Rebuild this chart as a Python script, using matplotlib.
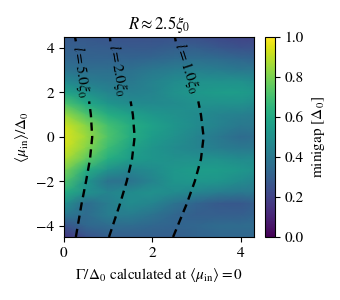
import numpy as np
import matplotlib
matplotlib.use('Agg')
import matplotlib.pyplot as plt

plt.rcParams['font.family'] = 'STIXGeneral'
plt.rcParams['mathtext.fontset'] = 'stix'
plt.rcParams['font.size'] = 11

# grid
gamma = [0.0, 0.5, 1.0, 1.5, 2.0, 2.5, 3.0, 3.5, 4.0, 4.3]
mu = [4.5, 4.0, 3.5, 3.0, 2.5, 2.0, 1.5, 1.0, 0.5, 0.0,
      -0.5, -1.0, -1.5, -2.0, -2.5, -3.0, -3.5, -4.0, -4.5]
minigap = [
    [0.28, 0.27, 0.26, 0.25, 0.25, 0.25, 0.24, 0.22, 0.20, 0.20],
    [0.30, 0.30, 0.29, 0.28, 0.28, 0.30, 0.30, 0.27, 0.25, 0.25],
    [0.33, 0.32, 0.32, 0.32, 0.33, 0.35, 0.36, 0.35, 0.33, 0.32],
    [0.38, 0.36, 0.36, 0.37, 0.40, 0.42, 0.43, 0.42, 0.40, 0.40],
    [0.47, 0.42, 0.40, 0.40, 0.44, 0.48, 0.50, 0.50, 0.50, 0.48],
    [0.58, 0.50, 0.45, 0.43, 0.45, 0.50, 0.53, 0.55, 0.55, 0.53],
    [0.72, 0.60, 0.52, 0.48, 0.47, 0.48, 0.50, 0.50, 0.50, 0.48],
    [0.85, 0.72, 0.62, 0.57, 0.53, 0.50, 0.48, 0.45, 0.43, 0.42],
    [0.93, 0.82, 0.70, 0.62, 0.57, 0.52, 0.48, 0.44, 0.40, 0.40],
    [0.95, 0.85, 0.72, 0.62, 0.55, 0.50, 0.45, 0.40, 0.35, 0.36],
    [0.93, 0.82, 0.68, 0.58, 0.52, 0.48, 0.45, 0.42, 0.40, 0.40],
    [0.88, 0.75, 0.62, 0.55, 0.52, 0.50, 0.50, 0.50, 0.48, 0.48],
    [0.80, 0.62, 0.50, 0.45, 0.48, 0.53, 0.55, 0.55, 0.53, 0.50],
    [0.72, 0.52, 0.38, 0.38, 0.45, 0.52, 0.53, 0.52, 0.48, 0.45],
    [0.62, 0.50, 0.45, 0.48, 0.50, 0.48, 0.45, 0.42, 0.40, 0.40],
    [0.50, 0.35, 0.42, 0.48, 0.45, 0.38, 0.32, 0.28, 0.27, 0.30],
    [0.40, 0.35, 0.42, 0.42, 0.38, 0.33, 0.30, 0.30, 0.30, 0.32],
    [0.25, 0.33, 0.35, 0.35, 0.33, 0.32, 0.33, 0.35, 0.35, 0.35],
    [0.15, 0.25, 0.30, 0.30, 0.30, 0.30, 0.32, 0.33, 0.33, 0.33],
]

# constant-length contours (x positions at given mu)
contour_mu = [-4.5, -3.0, -2.0, -1.0, 0.0, 1.0, 1.6]
contour_top_mu = [4.3, 4.5]
contours = {
    r'$l=5.0\xi_0$': ([0.27, 0.40, 0.50, 0.59, 0.64, 0.61, 0.57], [0.27, 0.25]),
    r'$l=2.0\xi_0$': ([1.02, 1.27, 1.42, 1.54, 1.60, 1.56, 1.51], [1.05, 1.04]),
    r'$l=1.0\xi_0$': ([2.47, 2.78, 2.96, 3.10, 3.16, 3.10, 3.04], [2.53, 2.51]),
}
label_pos = [(0.38, 2.95, -82), (1.22, 3.0, -80), (2.78, 3.1, -72)]

fig = plt.figure(figsize=(3.4, 3.0), dpi=100)
ax = fig.add_axes([0.188, 0.21, 0.559, 0.667])
cax = fig.add_axes([0.779, 0.21, 0.03, 0.667])

mesh = ax.pcolormesh(gamma, mu, np.array(minigap), cmap='viridis',
                     vmin=0, vmax=1, shading='gouraud', rasterized=True)

for (label, (xs, xs_top)), (lx, ly, rot) in zip(contours.items(), label_pos):
    ax.plot(xs, contour_mu, color='black', ls=(0, (3.5, 2.2)), lw=1.7)
    ax.plot(xs_top, contour_top_mu, color='black', ls=(0, (3.5, 2.2)), lw=1.7)
    ax.text(lx, ly, label, rotation=rot, ha='center', va='center', fontsize=11)

ax.set_xlim(0, 4.3)
ax.set_ylim(-4.5, 4.5)
ax.set_xticks([0, 2, 4])
ax.set_yticks([-4, -2, 0, 2, 4])
ax.set_title(r'$R\approx2.5\xi_0$', fontsize=12)
ax.set_xlabel(r'$\Gamma/\Delta_0$ calculated at $\langle\mu_\mathrm{in}\rangle=0$')
ax.set_ylabel(r'$\langle\mu_\mathrm{in}\rangle/\Delta_0$')

cb = fig.colorbar(mesh, cax=cax)
cb.set_ticks([0, 0.2, 0.4, 0.6, 0.8, 1.0])
cb.set_label(r'minigap [$\Delta_0$]')

fig.savefig('out.png', dpi=100)
